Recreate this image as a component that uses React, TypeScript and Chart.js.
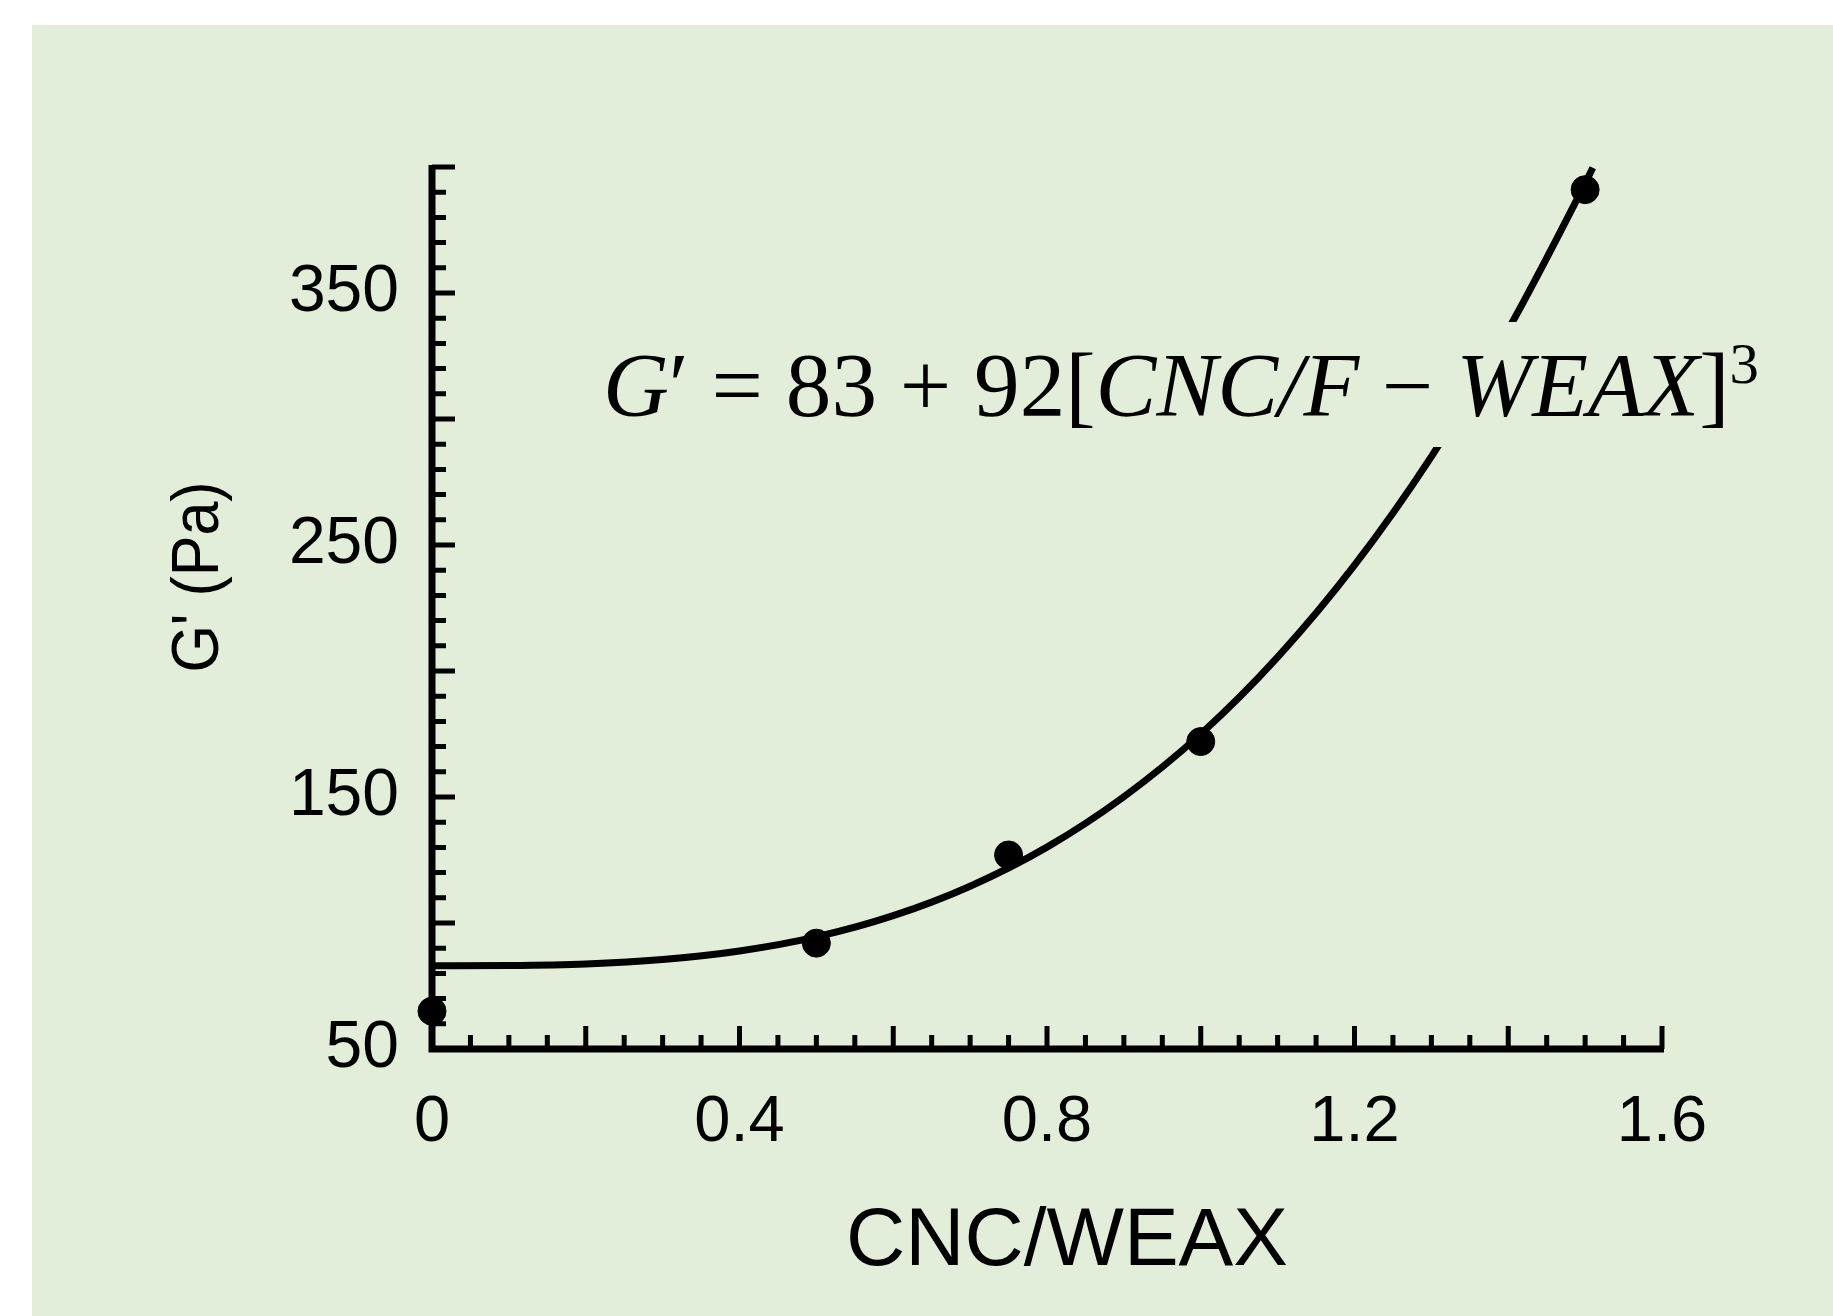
import React, { useEffect, useRef } from "react";
import { Chart, registerables } from "chart.js";

Chart.register(...registerables);

// ---- data ----
const ratioX = [0, 0.5, 0.75, 1.0, 1.5];
const modulusG = [65, 92, 127, 172, 391];
const fitX = [0, 0.1, 0.2, 0.3, 0.4, 0.5, 0.6, 0.7, 0.8, 0.9, 1.0, 1.1, 1.2, 1.3, 1.4, 1.5, 1.51];
const fitG = [83, 83.1, 83.7, 85.5, 88.9, 94.5, 102.9, 114.6, 130.1, 150.1, 175, 205.5, 242, 285.1, 335.5, 393.5, 399.7];
const xTickLabels = ["0", "0.4", "0.8", "1.2", "1.6"];
const yTickLabels = ["50", "150", "250", "350"];
const xTitle = "CNC/WEAX";
const yTitle = "G' (Pa)";
const equationRuns = [
  { t: "G", italic: true },
  { t: "\u2032", italic: false },
  { t: " = 83 + 92[", italic: false },
  { t: "CNC/F", italic: true },
  { t: " \u2212 ", italic: false },
  { t: "WEAX", italic: true },
  { t: "]", italic: false },
  { t: "3", sup: true },
];

const BG = "rgb(226,238,218)";
const SANS = "'Liberation Sans', Arial, sans-serif";
const SERIF = "'Liberation Serif', 'Times New Roman', serif";
const W = 1801;
const H = 1291;

const decorPlugin = {
  id: "decor",
  beforeDatasetsDraw(chart: any) {
    const ctx = chart.ctx as CanvasRenderingContext2D;
    const xs = chart.scales.x;
    const ys = chart.scales.y;
    const { left, right, top, bottom } = chart.chartArea;
    ctx.save();
    ctx.strokeStyle = "#000";
    ctx.lineCap = "butt";
    // axes
    ctx.lineWidth = 7;
    ctx.beginPath();
    ctx.moveTo(left, top - 2);
    ctx.lineTo(left, bottom + 3.5);
    ctx.moveTo(left - 3.5, bottom);
    ctx.lineTo(right + 2, bottom);
    ctx.stroke();
    // ticks (inward)
    ctx.lineWidth = 5;
    ctx.beginPath();
    for (const tk of ys.ticks) {
      const v = Math.round(tk.value);
      const y = ys.getPixelForValue(tk.value);
      const len = v % 50 === 0 ? 23 : 14;
      ctx.moveTo(left, y);
      ctx.lineTo(left + len, y);
    }
    for (const tk of xs.ticks) {
      const v = tk.value;
      const x = xs.getPixelForValue(v);
      const major = Math.abs(v / 0.2 - Math.round(v / 0.2)) < 1e-6;
      const len = major ? 23 : 14;
      ctx.moveTo(x, bottom);
      ctx.lineTo(x, bottom - len);
    }
    ctx.stroke();
    ctx.restore();
  },
  afterDatasetsDraw(chart: any) {
    const ctx = chart.ctx as CanvasRenderingContext2D;
    ctx.save();
    // axis titles
    ctx.fillStyle = "#000";
    ctx.font = `82px ${SANS}`;
    ctx.textAlign = "center";
    ctx.textBaseline = "alphabetic";
    ctx.fillText(xTitle, 1035, 1240);

    ctx.save();
    ctx.translate(186, 552);
    ctx.rotate(-Math.PI / 2);
    ctx.scale(0.91, 1);
    ctx.font = `67px ${SANS}`;
    ctx.fillText(yTitle, 0, 0);
    ctx.restore();

    // equation with background box
    ctx.fillStyle = BG;
    ctx.fillRect(555, 297, 1190, 125);
    const size = 90;
    const supSize = 58;
    const fontFor = (r: any) =>
      r.sup ? `${supSize}px ${SERIF}` : `${r.italic ? "italic " : ""}${size}px ${SERIF}`;
    let total = 0;
    for (const r of equationRuns) {
      ctx.font = fontFor(r);
      total += ctx.measureText(r.t).width;
    }
    const sx = 1156 / total;
    ctx.translate(571, 391);
    ctx.scale(sx, 1);
    ctx.fillStyle = "#000";
    ctx.textAlign = "left";
    let x = 0;
    for (const r of equationRuns) {
      ctx.font = fontFor(r);
      ctx.fillText(r.t, x, (r as any).sup ? -33 : 0);
      x += ctx.measureText(r.t).width;
    }
    ctx.restore();
  },
};

export default function App() {
  const canvasRef = useRef<HTMLCanvasElement | null>(null);

  useEffect(() => {
    const canvas = canvasRef.current;
    if (!canvas) return;
    const chart = new Chart(canvas, {
      type: "scatter",
      data: {
        datasets: [
          {
            label: "fit",
            data: fitX.map((x, i) => ({ x, y: fitG[i] })),
            showLine: true,
            borderColor: "#000",
            borderWidth: 7,
            pointRadius: 0,
            cubicInterpolationMode: "monotone",
            clip: false as any,
            order: 2,
          },
          {
            label: "data",
            data: ratioX.map((x, i) => ({ x, y: modulusG[i] })),
            showLine: false,
            pointRadius: 14,
            pointBackgroundColor: "#000",
            pointBorderColor: "#000",
            pointBorderWidth: 1,
            clip: false as any,
            order: 1,
          },
        ],
      },
      options: {
        responsive: false,
        animation: false,
        devicePixelRatio: 1,
        events: [],
        layout: { padding: { left: 0, top: 142, right: 171, bottom: 0 } },
        plugins: {
          legend: { display: false },
          tooltip: { enabled: false },
          title: { display: false },
        },
        scales: {
          x: {
            type: "linear",
            min: 0,
            max: 1.6,
            grid: { display: false, drawTicks: false },
            border: { display: false },
            ticks: {
              stepSize: 0.05,
              autoSkip: false,
              maxRotation: 0,
              minRotation: 0,
              padding: 35,
              color: "#000",
              font: { family: SANS, size: 65 },
              callback: (v: any) => {
                const s = String(Math.round(Number(v) * 100) / 100);
                return xTickLabels.includes(s) ? s : "";
              },
            },
            afterFit: (s: any) => {
              s.height = 267;
            },
          },
          y: {
            type: "linear",
            min: 50,
            max: 400,
            grid: { display: false, drawTicks: false },
            border: { display: false },
            ticks: {
              stepSize: 10,
              autoSkip: false,
              padding: 33,
              color: "#000",
              font: { family: SANS, size: 66 },
              callback: (v: any) => {
                const s = String(Math.round(Number(v)));
                return yTickLabels.includes(s) ? s : "";
              },
            },
            afterFit: (s: any) => {
              s.width = 400;
            },
          },
        },
      },
      plugins: [decorPlugin],
    } as any);
    return () => chart.destroy();
  }, []);

  return (
    <div
      style={{
        position: "absolute",
        left: 32,
        top: 25,
        width: W,
        height: H,
        background: BG,
        overflow: "hidden",
      }}
    >
      <canvas ref={canvasRef} width={W} height={H} style={{ display: "block", width: W, height: H }} />
    </div>
  );
}
